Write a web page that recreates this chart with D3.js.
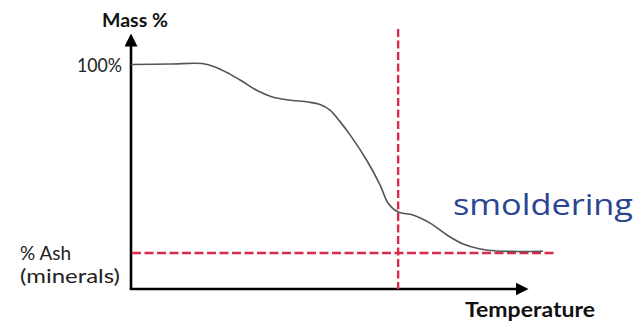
<!DOCTYPE html>
<html><head><meta charset="utf-8">
<script src="https://cdn.jsdelivr.net/npm/d3@7"></script>
<style>html,body{margin:0;padding:0;background:#fff;}</style>
</head><body>
<svg id="c" width="639" height="322"></svg>
<script>
// Data (temperature in relative units, mass in %)
const temperature = [0, 10, 18.0, 21.5, 25.0, 28.5, 32.0, 35.5, 40, 45.0, 48.0, 50.5, 53.0, 55.6, 59.9, 63.2, 65.3, 67.8, 71.6, 75.9, 80.2, 84.3, 88.6, 92.9, 98, 104.6];
const massPct     = [99.8, 100, 100.2, 98.6, 95.6, 92.0, 88.2, 85.6, 84.0, 83.1, 82.0, 79.5, 74.5, 68.5, 57.0, 46.3, 38.0, 34.2, 32.9, 29.3, 24, 20, 17.8, 16.9, 16.7, 16.8];
const ashLevel = 16;
const smolderingTemp = 67.8;
const ashLineEnd = 107.6;
const yTickLabels = ["100%"];
const yTickValues = [100];

const svg = d3.select("#c");
const x = d3.scaleLinear().domain([0, 100]).range([131, 525]);
const y = d3.scaleLinear().domain([0, 100]).range([289, 64]);

const defs = svg.append("defs");
defs.append("marker").attr("id","arr").attr("viewBox","0 0 10 10").attr("refX",5).attr("refY",5)
  .attr("markerWidth",5).attr("markerHeight",5).attr("orient","auto")
  .append("path").attr("d","M0,0 L10,5 L0,10 Z").attr("fill","#000");

// axes
svg.append("line").attr("x1", x(0)).attr("y1", y(0)).attr("x2", x(0)).attr("y2", 40)
  .attr("stroke","#000").attr("stroke-width",2.6).attr("marker-end","url(#arr)");
svg.append("line").attr("x1", x(0)-1.3).attr("y1", y(0)).attr("x2", 522).attr("y2", y(0))
  .attr("stroke","#000").attr("stroke-width",2.6).attr("marker-end","url(#arr)");

// dashed lines
const red = "#DA2B4C";
svg.append("line").attr("x1", x(smolderingTemp)).attr("x2", x(smolderingTemp)).attr("y1", 29).attr("y2", y(0))
  .attr("stroke", red).attr("stroke-width",2.4).attr("stroke-dasharray","8,3.5");
svg.append("line").attr("x1", x(0)+1).attr("x2", x(ashLineEnd)).attr("y1", y(ashLevel)).attr("y2", y(ashLevel))
  .attr("stroke", red).attr("stroke-width",2.4).attr("stroke-dasharray","9,3.5");

// curve
const pts = temperature.map((t,i)=>[t, massPct[i]]);
const line = d3.line().x(d=>x(d[0])).y(d=>y(d[1])).curve(d3.curveCatmullRom.alpha(0.5));
svg.append("path").attr("d", line(pts)).attr("fill","none").attr("stroke","#555").attr("stroke-width",1.6);

// texts
const font = "Lato, 'DejaVu Sans', sans-serif";
svg.append("text").attr("x",102).attr("y",27).attr("font-family",font).attr("font-weight","bold")
  .attr("font-size",19).attr("fill","#111").attr("textLength",66).attr("lengthAdjust","spacingAndGlyphs").text("Mass %");
svg.selectAll(".yt").data(yTickValues).enter().append("text")
  .attr("x",122).attr("y",d=>y(d)+8).attr("text-anchor","end").attr("font-family",font)
  .attr("font-size",20).attr("fill","#222").attr("textLength",45).attr("lengthAdjust","spacingAndGlyphs")
  .text((d,i)=>yTickLabels[i]);
svg.append("text").attr("x",20).attr("y",260).attr("font-family",font).attr("font-size",20).attr("fill","#222")
  .attr("textLength",51).attr("lengthAdjust","spacingAndGlyphs").text("% Ash");
svg.append("text").attr("x",20).attr("y",283).attr("font-family",font).attr("font-size",20).attr("fill","#222")
  .attr("textLength",100).attr("lengthAdjust","spacingAndGlyphs").text("(minerals)");
svg.append("text").attr("x",465).attr("y",317).attr("font-family",font).attr("font-weight","bold")
  .attr("font-size",20).attr("fill","#111").attr("textLength",130).attr("lengthAdjust","spacingAndGlyphs").text("Temperature");
svg.append("text").attr("x",453).attr("y",215).attr("font-family","'Open Sans', sans-serif")
  .attr("font-size",30).attr("fill","#2A4592").attr("textLength",180).attr("lengthAdjust","spacingAndGlyphs").text("smoldering");
</script>
</body></html>
